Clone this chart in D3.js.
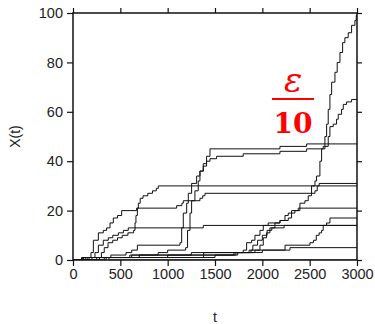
<!DOCTYPE html>
<html>
<head>
<meta charset="utf-8">
<script src="https://cdn.jsdelivr.net/npm/d3@7"></script>
<style>
body { margin: 0; background: #fff; }
svg { display: block; }
.tick text { font-family: "Liberation Sans", Arial, sans-serif; font-size: 14.5px; fill: #222; }
</style>
</head>
<body>
<script>
// step walks X(t): each pair is [t, X] where the walk jumps to X
var walkL1 = [[0,0],[170,1],[190,3],[215,8],[268,11],[320,12],[355,13],[391,15],[426,17],[470,18],[514,20],[672,21],[690,23],[710,25],[740,26],[790,27],[840,28],[880,29],[901,30]];
var walkS5 = [[0,0],[280,1],[300,3],[330,5],[370,7],[420,8],[470,9],[520,10],[580,11],[640,12],[655,15],[665,18],[680,21],[1095,22],[1150,23],[1165,24],[1341,25],[1370,26],[1394,27],[2556,28],[2580,30],[2600,31]];
var walkL2 = [[0,0],[200,1],[232,3],[268,6],[320,8],[373,9],[420,10],[479,11],[532,12],[584,13],[1376,14]];
var walkC = [[0,0],[330,1],[400,2],[560,3],[620,4],[680,6],[1130,7],[1148,13],[1165,19],[1201,23],[1218,27],[1253,31],[1306,34],[1341,36],[1376,39],[1411,42],[1447,45],[2186,46],[2468,47]];
var walkB = [[0,0],[350,1],[620,2],[900,3],[1000,4],[1190,5],[1210,12],[1236,19],[1253,24],[1288,28],[1323,32],[1341,36],[1376,38],[1411,40],[1447,41],[1517,42],[1798,43],[2186,44],[2468,45],[2643,46],[2696,50],[2714,54],[2749,55],[2784,57],[2802,59],[2837,61],[2855,63],[2890,64],[2943,65]];
var walkA = [[0,0],[100,1],[1380,2],[1700,3],[1922,4],[1975,6],[2010,9],[2045,11],[2080,13],[2133,15],[2186,16],[2274,17],[2309,19],[2344,20],[2397,23],[2450,24],[2485,26],[2520,30],[2556,32],[2573,34],[2608,40],[2626,45],[2661,50],[2679,55],[2696,61],[2714,67],[2732,72],[2767,76],[2791,80],[2820,84],[2848,88],[2872,90],[2907,92],[2943,95],[2978,97],[2992,99]];
var walkP = [[0,0],[130,1],[1000,2],[1740,3],[1798,4],[1834,7],[1887,8],[1922,10],[1975,12],[2010,14],[2062,15],[2186,16],[2239,18],[2274,19],[2309,20],[2379,21]];
var walkQ = [[0,0],[150,1],[700,2],[1380,3],[1860,4],[1900,6],[1950,8],[2000,10],[2050,12],[2100,13],[2230,14]];
var walkR17 = [[0,0],[250,1],[1500,2],[1720,3],[2000,4],[2240,6],[2503,7],[2540,8],[2570,10],[2600,11],[2626,12],[2643,14],[2679,15],[2714,17]];
var walkR5 = [[0,0],[90,1],[600,2],[1250,3],[1880,4],[2292,5]];
var walkZ = [[0,0],[110,1],[380,0]];

var walks = [walkZ, walkR5, walkR17, walkQ, walkP, walkL2, walkS5, walkL1, walkC, walkB, walkA];

var xTicks = [0, 500, 1000, 1500, 2000, 2500, 3000];
var yTicks = [0, 20, 40, 60, 80, 100];
var tEnd = 3000;

var width = 375, height = 324;
var x = d3.scaleLinear().domain([0, 3000]).range([73, 357]);
var y = d3.scaleLinear().domain([0, 100]).range([260, 13]);

var svg = d3.select("body").append("svg")
  .attr("width", width)
  .attr("height", height);

svg.append("defs").append("clipPath").attr("id", "clip")
  .append("rect")
  .attr("x", x(0)).attr("y", y(100))
  .attr("width", x(3000) - x(0)).attr("height", y(0) - y(100));

// walks as step lines
var line = d3.line()
  .x(function(d) { return x(d[0]); })
  .y(function(d) { return y(d[1]); })
  .curve(d3.curveStepAfter);

svg.append("g").attr("clip-path", "url(#clip)")
  .selectAll("path.walk")
  .data(walks)
  .enter().append("path")
  .attr("class", "walk")
  .attr("fill", "none")
  .attr("stroke", "#111")
  .attr("stroke-width", 1)
  .attr("d", function(w) {
    // hold the last value to the end of the window
    return line(w.concat([[tEnd, w[w.length - 1][1]]]));
  });

// axes on all four sides, ticks outward
function styleAxis(g) {
  g.select(".domain").remove();
  g.selectAll(".tick line").attr("stroke", "#111").attr("stroke-width", 1.2);
}
svg.append("g")
  .attr("transform", "translate(0," + y(0) + ")")
  .call(d3.axisBottom(x).tickValues(xTicks).tickSize(6).tickPadding(3).tickFormat(d3.format("d")))
  .call(styleAxis);
svg.append("g")
  .attr("transform", "translate(" + x(0) + ",0)")
  .call(d3.axisLeft(y).tickValues(yTicks).tickSize(6).tickPadding(4).tickFormat(d3.format("d")))
  .call(styleAxis);
svg.append("g")
  .attr("transform", "translate(0," + y(100) + ")")
  .call(d3.axisTop(x).tickValues(xTicks).tickSize(5).tickFormat(""))
  .call(styleAxis);
svg.append("g")
  .attr("transform", "translate(" + x(3000) + ",0)")
  .call(d3.axisRight(y).tickValues(yTicks).tickSize(5).tickFormat(""))
  .call(styleAxis);

// frame
svg.append("rect")
  .attr("x", x(0)).attr("y", y(100))
  .attr("width", x(3000) - x(0)).attr("height", y(0) - y(100))
  .attr("fill", "none")
  .attr("stroke", "#111")
  .attr("stroke-width", 1.5);

// axis titles
svg.append("text")
  .attr("x", (x(0) + x(3000)) / 2)
  .attr("y", 322)
  .attr("text-anchor", "middle")
  .style("font-family", "Liberation Sans, Arial, sans-serif")
  .style("font-size", "14px")
  .attr("fill", "#222")
  .text("t");
svg.append("text")
  .attr("transform", "translate(20," + (y(0) + y(100)) / 2 + ") rotate(-90)")
  .attr("text-anchor", "middle")
  .style("font-family", "Liberation Sans, Arial, sans-serif")
  .style("font-size", "14px")
  .attr("fill", "#222")
  .text("X(t)");

// red epsilon / 10 label
var fx = 293;
svg.append("text")
  .attr("x", fx).attr("y", 92)
  .attr("text-anchor", "middle")
  .style("font-family", "DejaVu Serif, serif")
  .style("font-style", "italic")
  .style("font-size", "34px")
  .attr("fill", "#ff0000")
  .text("\u03b5");
svg.append("line")
  .attr("x1", 272).attr("x2", 314)
  .attr("y1", 99).attr("y2", 99)
  .attr("stroke", "#ff0000")
  .attr("stroke-width", 2.2);
svg.append("text")
  .attr("x", fx).attr("y", 133)
  .attr("text-anchor", "middle")
  .style("font-family", "DejaVu Serif, serif")
  .style("font-weight", "bold")
  .style("font-size", "28px")
  .attr("fill", "#ff0000")
  .text("10");
</script>
</body>
</html>
